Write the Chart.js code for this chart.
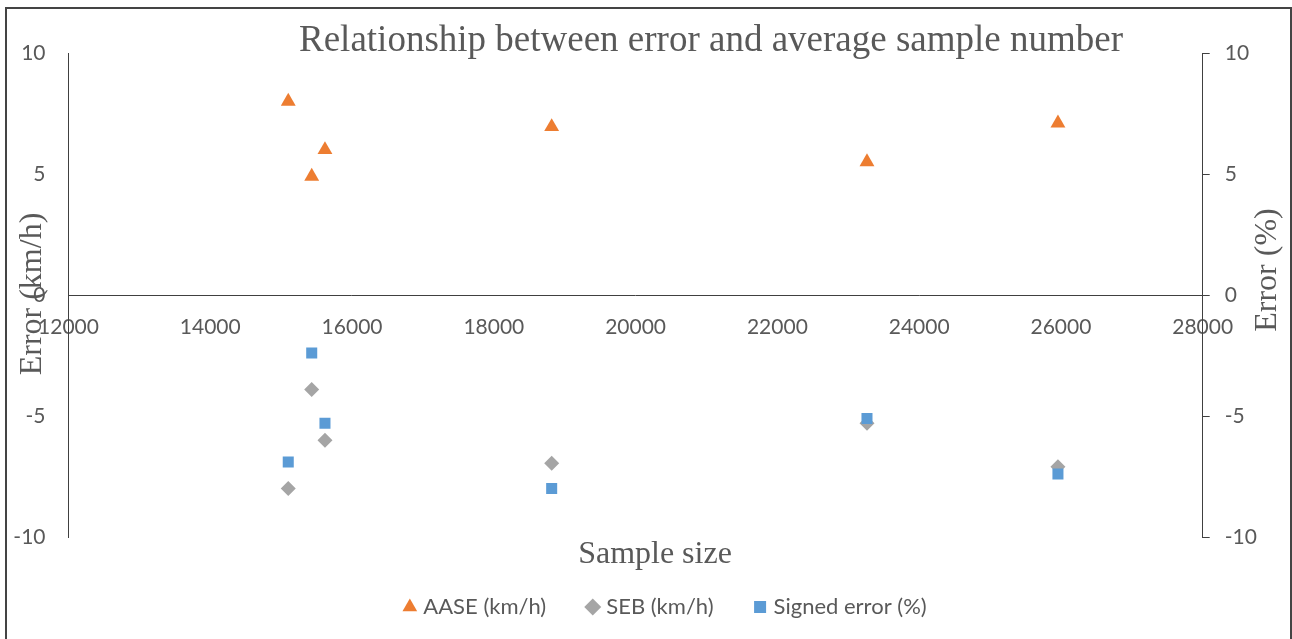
<!DOCTYPE html>
<html>
<head>
<meta charset="utf-8">
<script src="https://cdn.jsdelivr.net/npm/chart.js@4.4.1/dist/chart.umd.min.js"></script>
<style>
  html, body { margin: 0; padding: 0; background: #ffffff; }
  #wrap { width: 1292px; height: 639px; position: relative; }
</style>
</head>
<body>
<div id="wrap"><canvas id="c" width="1292" height="639"></canvas></div>
<script>
// ---- data ----
const sampleSize   = [15100, 15431, 15618, 18816, 23264, 25958];
const aase         = [8.0, 4.9, 6.0, 6.95, 5.5, 7.1];
const seb          = [-8.0, -3.9, -6.0, -6.95, -5.3, -7.1];
const signedError  = [-6.9, -2.4, -5.3, -8.0, -5.1, -7.4];
const seriesNames  = ['AASE (km/h)', 'SEB (km/h)', 'Signed error (%)'];
const chartTitle   = 'Relationship between error and average sample number';
const xTitle       = 'Sample size';
const yLeftTitle   = 'Error (km/h)';
const yRightTitle  = 'Error (%)';
const xMin = 12000, xMax = 28000, xStep = 2000;
const yMin = -10, yMax = 10, yStep = 5;

const pts = (xs, ys) => xs.map((x, i) => ({x: x, y: ys[i]}));

const textGray = '#595959';
const axisGray = '#404040';
const serif = "'Liberation Serif', 'DejaVu Serif', serif";
const sans = 'Lato';

const decor = {
  id: 'decor',
  beforeDraw(chart) {
    const ctx = chart.ctx;
    ctx.save();
    ctx.fillStyle = '#ffffff';
    ctx.fillRect(0, 0, chart.width, chart.height);
    ctx.restore();
  },
  afterDraw(chart) {
    const ctx = chart.ctx;
    ctx.save();
    // outer frame
    ctx.strokeStyle = '#444444';
    ctx.lineWidth = 2;
    ctx.strokeRect(6, 8, 1285, 700);
    ctx.fillStyle = textGray;
    ctx.textAlign = 'center';
    ctx.textBaseline = 'middle';
    // chart title
    ctx.font = '37px ' + serif;
    ctx.fillText(chartTitle, 711, 41);
    // x title
    ctx.font = '32px ' + serif;
    ctx.fillText(xTitle, 655, 555);
    // left y title
    ctx.save();
    ctx.translate(33, 294);
    ctx.rotate(-Math.PI / 2);
    ctx.fillText(yLeftTitle, 0, 0);
    ctx.restore();
    // right y title
    ctx.save();
    ctx.translate(1268, 270);
    ctx.rotate(-Math.PI / 2);
    ctx.fillText(yRightTitle, 0, 0);
    ctx.restore();
    ctx.restore();
  }
};

new Chart(document.getElementById('c'), {
  type: 'scatter',
  data: {
    datasets: [
      { label: seriesNames[0], data: pts(sampleSize, aase), yAxisID: 'y',
        pointStyle: 'triangle', pointRadius: 8.6, backgroundColor: '#ED7D31', borderColor: '#ED7D31', pointBorderWidth: 0, order: 3 },
      { label: seriesNames[1], data: pts(sampleSize, seb), yAxisID: 'y',
        pointStyle: 'rectRot', pointRadius: 7.5, backgroundColor: '#A5A5A5', borderColor: '#A5A5A5', pointBorderWidth: 0, order: 2 },
      { label: seriesNames[2], data: pts(sampleSize, signedError), yAxisID: 'y2',
        pointStyle: 'rect', pointRadius: 7.8, backgroundColor: '#5B9BD5', borderColor: '#5B9BD5', pointBorderWidth: 0, order: 1 }
    ]
  },
  options: {
    responsive: false,
    animation: false,
    devicePixelRatio: 1,
    events: [],
    layout: { padding: { left: 0, right: -42, top: 53, bottom: 11 } },
    scales: {
      x: {
        type: 'linear',
        position: { y: 0 },
        min: xMin, max: xMax,
        grid: { display: false, drawTicks: false },
        border: { display: true, color: axisGray, width: 1 },
        ticks: { stepSize: xStep, color: textGray, padding: 20, maxRotation: 0, autoSkip: false,
                 font: { family: sans, size: 21 },
                 callback: (v) => String(v) }
      },
      y: {
        position: 'left',
        min: yMin, max: yMax,
        grid: { display: false, drawTicks: false },
        border: { display: true, color: axisGray, width: 1 },
        ticks: { stepSize: yStep, color: textGray, padding: 23, font: { family: sans, size: 21 },
                 callback: (v) => String(v) },
        afterFit(scale) { scale.width = 68.5; }
      },
      y2: {
        position: 'right',
        min: yMin, max: yMax,
        grid: { display: true, drawOnChartArea: false, drawTicks: true, tickLength: 7, color: axisGray },
        border: { display: true, color: axisGray, width: 1 },
        ticks: { stepSize: yStep, color: textGray, padding: 15, font: { family: sans, size: 21 },
                 callback: (v) => String(v) },
        afterFit(scale) { scale.width = 131.3; }
      }
    },
    plugins: {
      title: { display: false },
      tooltip: { enabled: false },
      legend: {
        display: true,
        position: 'bottom',
        title: { display: true, text: '', padding: { top: 5, bottom: 0 }, font: { size: 10, lineHeight: 1 } },
        labels: {
          usePointStyle: true,
          boxWidth: 5,
          boxHeight: 12,
          padding: 44,
          color: textGray,
          font: { family: sans, size: 22 },
          sort: (a, b) => a.datasetIndex - b.datasetIndex
        }
      }
    }
  },
  plugins: [decor]
});
</script>
</body>
</html>
